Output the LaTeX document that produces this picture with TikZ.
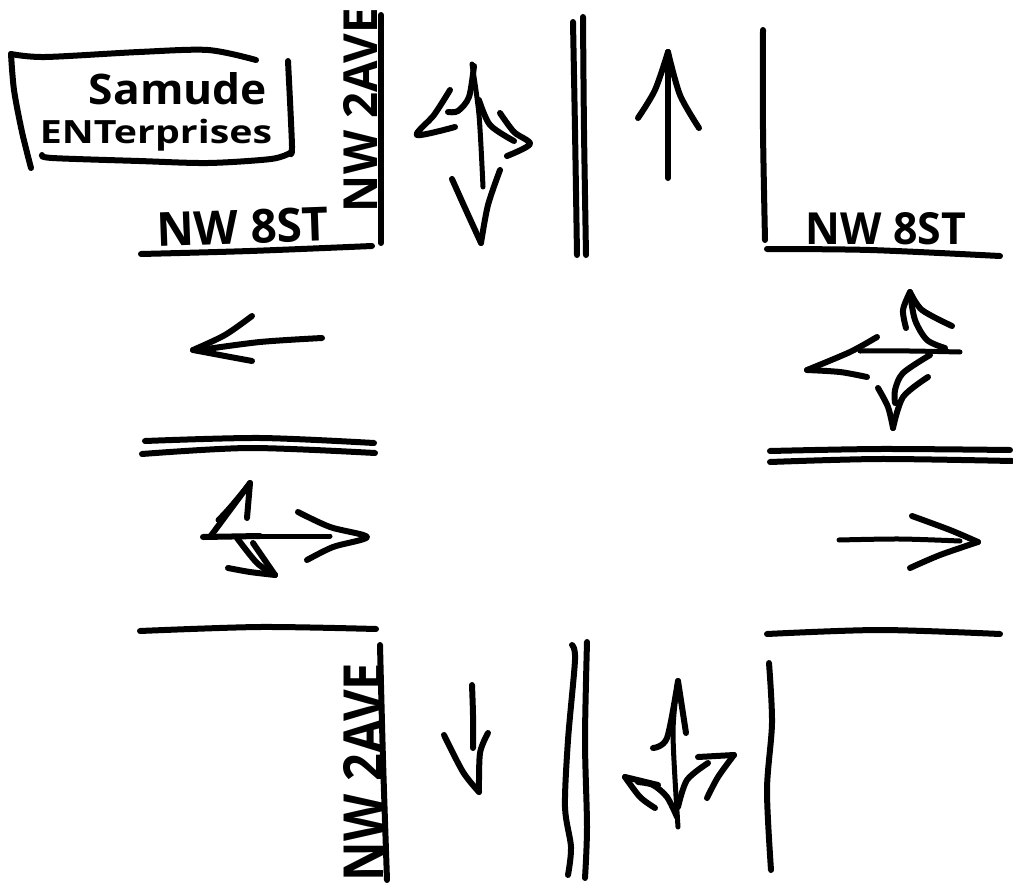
\documentclass[tikz,border=0pt]{standalone}
\usepackage{graphicx}
\usepackage{fontspec}
\setmainfont{Open Sans}
\tikzset{
  inkline/.style={draw=black,line width=6pt,line cap=round,line join=round},
  inkthin/.style={draw=black,line width=5pt,line cap=round,line join=round},
  handtext/.style={inner sep=0pt,outer sep=0pt,text=black}
}
\newcommand{\ink}[1]{\draw[inkline] plot[smooth,tension=0.5] coordinates {#1};}
\newcommand{\inkt}[1]{\draw[inkthin] plot[smooth,tension=0.5] coordinates {#1};}
\begin{document}
\begin{tikzpicture}[x=1pt,y=-1pt]
\useasboundingbox (0,0) rectangle (1013,886);
% sign box
\ink{(11,54)(45,57)(139,52)(208,50)(256,60)}
\ink{(11,54)(14,90)(22,132)(31,168)}
\ink{(42,155)(52,158)(139,161)(208,163)(271,159)(290,153)}
\ink{(290,153)(292,146)(288,61)}
\node[handtext,font=\bfseries] (samude) at (178,89) {\resizebox{178pt}{32pt}{Samude}};
\node[handtext,font=\bfseries] (enterprises) at (156,135) {\resizebox*{232pt}{32pt}{ENTerprises}};
% road edges
\ink{(381,15)(381,130)(381,243)}
\ink{(141,254)(250,251)(372,246)}
\ink{(573,22)(575,130)(577,255)}
\ink{(583,17)(584,130)(586,255)}
\ink{(763,30)(763,130)(765,240)}
\ink{(767,249)(870,250)(1000,256)}
\ink{(145,441)(260,438)(374,443)}
\ink{(142,454)(250,448)(375,453)}
\ink{(770,451)(880,449)(1010,450)}
\ink{(770,462)(880,459)(1012,461)}
\ink{(140,631)(260,627)(376,629)}
\ink{(767,634)(880,630)(1000,634)}
\ink{(380,645)(383,760)(387,880)}
\ink{(572,645)(575,660)(568,740)(565,807)(571,847)(568,875)}
\ink{(587,642)(585,740)(587,827)(585,878)}
\ink{(769,663)(772,723)(767,790)(771,870)}
% street labels
\node[handtext,font=\bfseries,rotate=2] (st1) at (243,227) {\resizebox{172pt}{34pt}{NW 8ST}};
\node[handtext,font=\bfseries] (st2) at (886,229) {\resizebox{160pt}{32pt}{NW 8ST}};
\node[handtext,font=\bfseries,rotate=90] (av1) at (360,110) {\resizebox{204pt}{34pt}{NW 2AVE}};
\node[handtext,font=\bfseries,rotate=90] (av2) at (363,772) {\resizebox{218pt}{40pt}{NW 2AVE}};
% top left three-way arrow
\inkt{(472,64)(479,115)(483,187)}
\ink{(474,66)(469,97)(458,111)(448,112)}
\ink{(450,90)(434,115)(417,135)(455,127)}
\ink{(479,100)(490,125)(514,141)}
\ink{(500,113)(514,132)(530,144)(507,156)}
\ink{(452,179)(465,208)(481,243)}
\ink{(481,243)(488,205)(500,170)}
% top right up arrow
\ink{(668,52)(668,115)(668,178)}
\ink{(638,118)(655,90)(668,52)}
\ink{(668,52)(680,95)(699,128)}
% left west arrow
\ink{(322,338)(260,342)(200,350)}
\ink{(252,316)(225,335)(193,350)}
\ink{(193,350)(225,356)(252,361)}
% right three-way arrow
\inkt{(960,352)(910,351)(860,351)}
\ink{(877,337)(850,352)(807,370)}
\ink{(807,370)(840,372)(867,377)}
\ink{(945,348)(927,340)(915,320)(910,293)}
\ink{(910,292)(903,310)(906,328)}
\ink{(910,292)(922,310)(952,326)}
\ink{(930,355)(903,373)(895,390)(895,403)}
\ink{(878,388)(888,407)(893,428)}
\ink{(893,428)(903,397)(928,377)}
% right lower east arrow
\inkt{(839,540)(900,539)(960,541)}
\ink{(912,516)(950,530)(978,542)}
\ink{(978,542)(940,555)(910,568)}
% left lower three-way arrow
\ink{(203,537)(260,536)}
\inkt{(260,536)(330,536)}
\ink{(298,512)(330,527)(367,537)(333,547)(307,560)}
\ink{(210,537)(230,510)(250,483)}
\ink{(250,483)(247,518)}
\inkt{(218,520)(230,507)(250,483)}
\ink{(237,538)(257,563)(275,575)}
\ink{(253,543)(275,575)}
\ink{(228,568)(250,572)(275,575)}
% bottom left down arrow
\ink{(472,685)(473,715)(473,748)}
\ink{(444,735)(463,772)(479,792)}
\ink{(479,792)(480,753)(488,733)}
% bottom right three-way arrow
\inkt{(678,681)(673,733)(678,827)}
\ink{(653,748)(667,738)(678,681)}
\ink{(678,681)(686,733)}
\ink{(678,807)(687,780)(708,763)}
\ink{(698,757)(734,755)}
\ink{(734,755)(718,777)(707,798)}
\ink{(677,817)(667,797)(653,785)(638,782)}
\ink{(658,785)(625,777)}
\ink{(625,777)(640,797)(655,808)}
\end{tikzpicture}
\end{document}
